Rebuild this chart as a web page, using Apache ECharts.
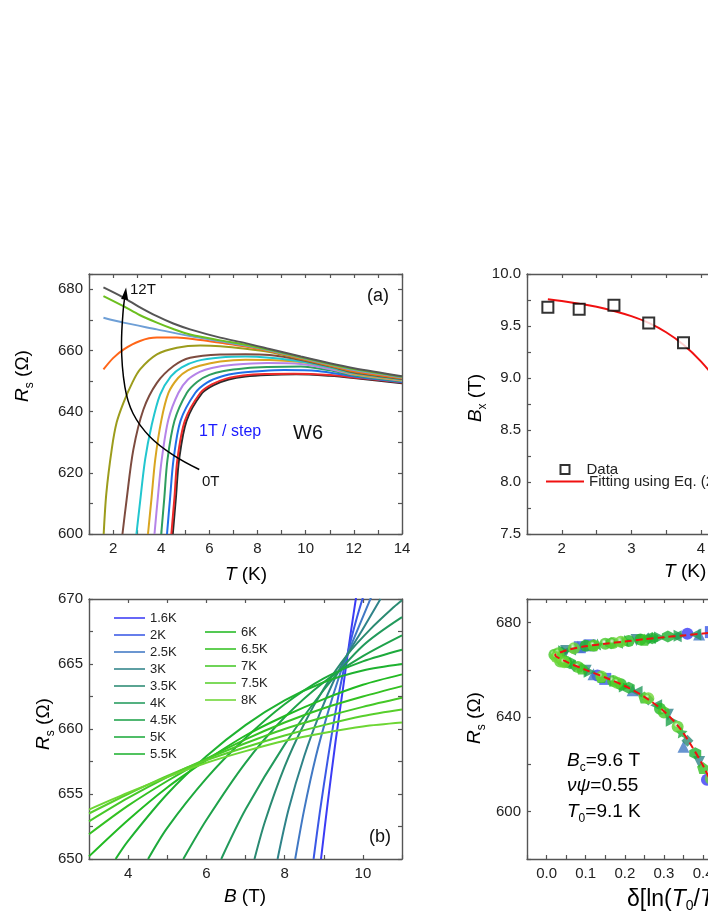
<!DOCTYPE html>
<html>
<head>
<meta charset="utf-8">
<script src="https://cdn.jsdelivr.net/npm/echarts@6/dist/echarts.min.js"></script>
<style>
html, body { margin: 0; padding: 0; overflow: hidden; background: #fff; }
#main { width: 880px; height: 917px; }
</style>
</head>
<body>
<div id="main"></div>
<script>
// ---- (a) Rs vs T at fixed field, 0T .. 12T
var fieldNames = ['0T','1T','2T','3T','4T','5T','6T','7T','8T','9T','10T','11T','12T'];
var fieldT = [
  [4.48, 4.61, 4.74, 5.05, 5.7, 6.18, 6.8, 7.5, 8.4, 9.6, 11, 12, 14],
  [4.42, 4.55, 4.67, 4.98, 5.62, 6.1, 6.7, 7.4, 8.3, 9.5, 11, 12, 14],
  [4.24, 4.37, 4.51, 4.8, 5.41, 5.9, 6.5, 7.2, 8.2, 9.1, 10.5, 12, 14],
  [4.0, 4.13, 4.26, 4.55, 5.06, 5.5, 6.0, 6.6, 7.5, 8.4, 9.8, 11, 12, 14],
  [3.72, 3.86, 4.02, 4.3, 4.71, 5.1, 5.6, 6.1, 7, 8.4, 9.8, 11, 12, 14],
  [3.45, 3.6, 3.75, 4.0, 4.3, 4.7, 5.1, 5.6, 6.45, 7.5, 8.5, 9.8, 11, 12, 14],
  [2.97, 3.1, 3.33, 3.6, 3.95, 4.4, 4.85, 5.5, 6.45, 7.5, 8.5, 9.8, 11, 12, 14],
  [2.39, 2.56, 2.84, 3.26, 3.82, 4.51, 5.2, 6.45, 7.5, 8.5, 9.8, 11, 12, 14],
  [1.61, 1.72, 1.95, 2.15, 2.43, 2.8, 3.12, 3.82, 4.65, 5.62, 6.45, 7.5, 8.5, 9.8, 11, 12, 14],
  [1.6, 2.0, 2.43, 3.12, 3.82, 4.65, 5.62, 6.45, 7.5, 8.5, 9.8, 11, 12, 14],
  [1.6, 2.43, 3.82, 5.2, 6.45, 7.5, 8.5, 9.8, 11, 12, 14],
  [1.6, 2.43, 3.1, 3.82, 4.5, 5.2, 6.45, 7.5, 8.5, 9.8, 11, 12, 14],
  [1.6, 2.43, 3.1, 3.82, 4.5, 5.2, 6.45, 7.5, 8.5, 9.8, 11, 12, 14]
];
var fieldR = [
  [600, 612, 624.3, 637, 646.1, 648.7, 650.5, 651.5, 652.0, 652.2, 651.7, 651.0, 649.3],
  [600, 612, 624.3, 637, 646.1, 648.9, 650.8, 651.8, 652.3, 652.4, 652.0, 651.2, 649.5],
  [600, 612, 624.3, 637, 646.1, 649.5, 651.5, 652.6, 653.3, 653.6, 653.3, 651.5, 649.7],
  [600, 612, 624.3, 637, 646.1, 649.8, 652.0, 653.3, 654.2, 654.6, 654.8, 653.5, 651.8, 649.9],
  [600, 612, 624.3, 637.5, 646.1, 650.4, 653.0, 654.3, 655.3, 655.9, 655.6, 653.9, 652.1, 650.1],
  [600, 612, 624.3, 637, 646.1, 651.0, 653.5, 655.0, 656.4, 657.0, 656.9, 656.2, 654.4, 652.3, 650.3],
  [600, 609, 624.3, 635.5, 645.5, 651.5, 654.5, 656.6, 657.7, 658.0, 657.6, 656.4, 654.5, 652.6, 650.5],
  [600, 611.1, 627.5, 640.7, 649.4, 654.9, 657.6, 658.7, 658.8, 658.5, 656.9, 654.8, 652.8, 650.7],
  [600, 613.3, 628, 636.5, 642.9, 649.5, 653.8, 658.7, 660.9, 661.6, 661.4, 660.6, 659.5, 657.2, 655.0, 653.1, 650.9],
  [653.8, 657.5, 660.3, 663.1, 664.2, 664.2, 663.4, 662.5, 661.3, 659.8, 657.4, 655.2, 653.3, 651.0],
  [670.7, 669.1, 666.9, 664.7, 663.0, 661.6, 660.0, 657.6, 655.4, 653.6, 651.2],
  [677.8, 674.5, 671.6, 669.1, 667.0, 665.2, 663.3, 661.9, 660.2, 657.8, 655.6, 653.9, 651.4],
  [680.6, 677.3, 674.2, 671.2, 668.8, 666.9, 664.2, 662.4, 660.5, 658.0, 655.8, 654.2, 651.6]
];
var fieldColors = ['#2b2b2b','#ee2a2a','#1f6fe8','#2e9e5e','#b583e8','#d9a520','#22c6cf',
                   '#7d4b3f','#9c9c1c','#ff6618','#6e9fd6','#6cbf1f','#555555'];
// curved arrow 0T -> 12T
var arrowT = [5.58, 4.5, 3.53, 2.83, 2.49, 2.35, 2.42, 2.51];
var arrowR = [621.1, 625.8, 631.8, 639.4, 648.1, 662.2, 673.1, 678.6];

// ---- (b) Rs vs B at fixed temperature
var tempNames = ['1.6K','2K','2.5K','3K','3.5K','4K','4.5K','5K','5.5K','6K','6.5K','7K','7.5K','8K'];
var bField = [
  [8.93, 9.1, 9.3, 9.5, 9.6, 9.7, 9.84],
  [8.74, 8.9, 9.1, 9.3, 9.5, 9.7, 9.85, 10.03],
  [8.27, 8.5, 8.8, 9.1, 9.4, 9.6, 9.9, 10.22],
  [7.82, 8.1, 8.5, 8.9, 9.3, 9.6, 10.0, 10.45],
  [7.23, 7.5, 8.0, 8.5, 9.0, 9.6, 10.2, 10.8, 11],
  [6.38, 7, 8, 9, 10, 11],
  [5.41, 6, 7, 8, 9, 10, 11],
  [4.51, 5, 6, 7, 8, 9, 10, 11],
  [3.68, 4, 5, 6, 7, 8, 9, 10, 11],
  [3, 4, 5, 6, 7, 8, 9, 10, 11],
  [3, 4, 5, 6, 7, 8, 9, 10, 11],
  [3, 4, 5, 6, 7, 8, 9, 10, 11],
  [3, 4, 5, 6, 7, 8, 9, 10, 11],
  [3, 4, 5, 6, 7, 8, 9, 10, 11]
];
var bRes = [
  [650, 654.3, 659.0, 663.3, 665.5, 667.6, 670.4],
  [650, 653.6, 657.6, 661.3, 664.4, 666.9, 668.6, 670.4],
  [650, 653.8, 657.9, 661.2, 664.1, 665.7, 667.9, 670.2],
  [650, 653.8, 657.9, 661.2, 664.0, 665.7, 667.7, 670],
  [650, 652.9, 657.1, 660.4, 663.1, 665.7, 667.7, 669.4, 669.9],
  [650, 653.8, 658.8, 663.0, 666.4, 668.6],
  [650, 653.0, 657.4, 660.9, 663.6, 665.6, 667.2],
  [650, 652.4, 656.2, 659.3, 661.9, 663.9, 665.2, 666.1],
  [650, 651.4, 655.0, 657.9, 660.3, 662.2, 663.6, 664.5, 665.0],
  [650.2, 653.0, 655.5, 657.6, 659.5, 661.0, 662.3, 663.4, 664.2],
  [651.9, 654.1, 656.0, 657.7, 659.2, 660.5, 661.6, 662.5, 663.3],
  [652.9, 654.7, 656.3, 657.7, 658.9, 660.0, 660.9, 661.7, 662.4],
  [653.5, 655.0, 656.4, 657.6, 658.6, 659.5, 660.3, 661.0, 661.5],
  [653.8, 655.1, 656.3, 657.4, 658.3, 659.1, 659.7, 660.2, 660.5]
];
var tempColors = ['#3b3bf5','#3a58e6','#4078c4','#2f8389','#2a8a72','#229a5c','#1ea24a',
                  '#1daa3c','#1eb230','#22ba22','#34c122','#45c827','#58cf2c','#6dd634'];

// ---- (c) Bx vs T
var bxT = [1.8, 2.25, 2.75, 3.25, 3.75];
var bxVal = [9.68, 9.66, 9.70, 9.53, 9.34];
var fitT = [1.8, 2.0, 2.25, 2.5, 2.75, 3.0, 3.25, 3.5, 3.75, 4.0, 4.25, 4.5];
var fitB = [9.757, 9.74, 9.715, 9.685, 9.645, 9.595, 9.53, 9.44, 9.32, 9.16, 8.96, 8.74];

// ---- (d) scaling collapse
var scalePts = [
  [[0.36,675.3],[0.45,676.3],[0.55,677.5],[0.13,657.6],[0.41,613.5],[0.47,600]],
  [[0.11,670.4],[0.42,676.0],[0.52,677.0],[0.15,656.2],[0.44,604],[0.085,669.6]],
  [[0.08,669.8],[0.39,675.0],[0.6,678.2],[0.12,658.2],[0.35,627.5],[0.22,651.4]],
  [[0.05,668.0],[0.23,672.7],[0.48,676.5],[0.1,659.6],[0.31,641],[0.39,621]],
  [[0.04,667.4],[0.26,673.3],[0.43,675.9],[0.07,661.8],[0.26,647.5],[0.36,630]],
  [[0.06,668.6],[0.18,671.5],[0.38,675.0],[0.03,665.0],[0.23,650.8],[0.28,645],[0.33,674.2]],
  [[0.045,667.9],[0.29,673.7],[0.34,674.5],[0.11,659.2],[0.32,638.5],[0.2,653.0]],
  [[0.13,670.7],[0.2,672.3],[0.17,655.3],[0.345,633.5],[0.27,673.5]],
  [[0.165,671.3],[0.27,673.4],[0.06,662.8],[0.21,652.4],[0.38,624.7],[0.31,674.1]],
  [[0.1,670.2],[0.21,672.2],[0.05,663.4],[0.19,653.9],[0.29,643.6],[0.24,672.9]],
  [[0.12,670.4],[0.25,672.8],[0.09,660.6],[0.25,648.3],[0.4,618.5],[0.14,657.0]],
  [[0.02,666.4],[0.15,671.1],[0.04,664.2],[0.17,655.3],[0.3,642.0],[0.08,661.2]],
  [[0.03,667.0],[0.17,671.4],[0.035,663.6],[0.18,654.6],[0.335,636],[0.12,670.3]],
  [[0.025,665.5],[0.07,669.2],[0.045,663.2],[0.14,657.2],[0.26,648.0],[0.42,614],[0.19,671.9]]
];
var scaleFitX = [0.75, 0.6, 0.5, 0.45, 0.4, 0.35, 0.3, 0.25, 0.2, 0.15, 0.1, 0.06, 0.04, 0.022,
                 0.05, 0.1, 0.15, 0.2, 0.25, 0.3, 0.34, 0.37, 0.4, 0.43, 0.46, 0.5];
var scaleFitY = [679.6, 678.0, 676.8, 676.1, 675.4, 674.6, 673.8, 673.0, 672.0, 671.1, 670.0, 668.7, 667.7, 666.3,
                 663.5, 660.0, 656.8, 653.2, 648.6, 642.5, 635.5, 628, 619.5, 609, 597, 580];

var STAR = 'path://M0,-10 L2.9,-4 L9.5,-3.1 L4.7,1.5 L5.9,8.1 L0,5 L-5.9,8.1 L-4.7,1.5 L-9.5,-3.1 L-2.9,-4 Z';
var PENT = 'path://M0,-10 L9.5,-3.1 L5.9,8.1 L-5.9,8.1 L-9.5,-3.1 Z';
var HEX = 'path://M0,-10 L8.7,-5 L8.7,5 L0,10 L-8.7,5 L-8.7,-5 Z';
var LINE_ICON = 'path://M0,0 L40,0 L40,2 L0,2 Z';
// hollow square (outer clockwise, inner counter-clockwise -> hole)
var SQUARE_ICON = 'path://M0,0 L11,0 L11,11 L0,11 Z M2,2 L2,9 L9,9 L9,2 Z';
var tempSymbols = ['circle','rect','triangle','triangle','diamond','triangle','triangle',
                   STAR, HEX, 'circle', PENT, 'circle', 'circle', 'circle'];
var tempRotate = [0, 0, 0, 180, 0, 90, -90, 0, 0, 0, 0, 0, 0, 0];

var FONT = 'Liberation Sans, Arial, sans-serif';
var AX = '#555';

function zip(xs, ys) {
  return xs.map(function (x, i) { return [x, ys[i]]; });
}
function every(step, digits) {
  return function (v) {
    var k = v / step;
    if (Math.abs(k - Math.round(k)) > 1e-6) return '';
    if (Math.abs(v) < 1e-9) v = 0;
    return v.toFixed(digits);
  };
}
function axisBase(g, pos, min, max, step) {
  return {
    gridIndex: g, type: 'value', position: pos, min: min, max: max, interval: step,
    axisLine: { show: true, onZero: false, lineStyle: { color: AX, width: 1.4 } },
    axisTick: { show: true, inside: true, length: 4, lineStyle: { color: AX, width: 1.2 } },
    axisLabel: { show: false },
    splitLine: { show: false }
  };
}
function axisPair(g, isX, min, max, step, fmt) {
  var main = axisBase(g, isX ? 'bottom' : 'left', min, max, step);
  main.axisLabel = { show: true, formatter: fmt, fontSize: 15, color: '#222', fontFamily: FONT, margin: isX ? 7 : 6 };
  var mirror = axisBase(g, isX ? 'top' : 'right', min, max, step);
  return [main, mirror];
}

var xAxes = [].concat(
  axisPair(0, true, 1, 14, 1, every(2, 0)),
  axisPair(1, true, 3, 11, 1, every(2, 0)),
  axisPair(2, true, 1.5, 6, 0.5, every(1, 0)),
  axisPair(3, true, -0.05, 0.75, 0.05, every(0.1, 1))
);
var yAxes = [].concat(
  axisPair(0, false, 600, 685, 10, every(20, 0)),
  axisPair(1, false, 650, 670, 2.5, every(5, 0)),
  axisPair(2, false, 7.5, 10, 0.25, every(0.5, 1)),
  axisPair(3, false, 580, 690, 20, every(40, 0))
);

var series = [];
// (a)
fieldNames.forEach(function (n, i) {
  series.push({
    type: 'line', name: n, xAxisIndex: 0, yAxisIndex: 0,
    data: zip(fieldT[i], fieldR[i]), symbol: 'none', smooth: 0.3, silent: true,
    lineStyle: { color: fieldColors[i], width: 2 }, z: 2
  });
});
var arrowData = zip(arrowT, arrowR);
arrowData[arrowData.length - 1] = {
  value: arrowData[arrowData.length - 1], symbol: 'triangle', symbolSize: [7, 12], symbolRotate: -7
};
series.push({
  type: 'line', name: 'arrow', xAxisIndex: 0, yAxisIndex: 0, data: arrowData,
  symbol: 'none', showSymbol: true, showAllSymbol: true, smooth: 0.4, silent: true,
  lineStyle: { color: '#000', width: 1.5 }, itemStyle: { color: '#000' }, z: 5
});
// (b)
tempNames.forEach(function (n, i) {
  series.push({
    type: 'line', name: n, xAxisIndex: 2, yAxisIndex: 2,
    data: zip(bField[i], bRes[i]), symbol: 'none', smooth: 0.3, silent: true,
    lineStyle: { color: tempColors[i], width: 2 }, itemStyle: { color: tempColors[i] }
  });
});
// (c)
series.push({
  type: 'scatter', name: 'Data', xAxisIndex: 4, yAxisIndex: 4, data: zip(bxT, bxVal),
  symbol: 'rect', symbolSize: 11, silent: true, z: 4,
  itemStyle: { color: '#fff', borderColor: '#000', borderWidth: 2 }
});
series.push({
  type: 'line', name: 'Fitting using Eq. (2)', xAxisIndex: 4, yAxisIndex: 4, data: zip(fitT, fitB),
  symbol: 'none', smooth: 0.4, silent: true,
  lineStyle: { color: '#f01010', width: 2 }, itemStyle: { color: '#f01010' }
});
// (d)
tempNames.forEach(function (n, i) {
  var col = tempColors[i];
  var fill = col;
  if (i >= 11) {
    fill = { type: 'radial', x: 0.4, y: 0.35, r: 0.6,
      colorStops: [{ offset: 0, color: '#ffffff' }, { offset: 0.35, color: col }, { offset: 1, color: col }] };
  }
  series.push({
    type: 'scatter', name: 'sc' + n, xAxisIndex: 6, yAxisIndex: 6, data: scalePts[i],
    symbol: tempSymbols[i], symbolRotate: tempRotate[i], symbolSize: 12, silent: true,
    itemStyle: { color: fill }
  });
});
series.push({
  type: 'line', name: 'scaleFit', xAxisIndex: 6, yAxisIndex: 6, data: zip(scaleFitX, scaleFitY),
  symbol: 'none', smooth: 0.3, silent: true, z: 6,
  lineStyle: { color: '#ee1111', width: 2, type: [7, 4] }
});

// text helpers
function richSet(size) {
  var sub = Math.round(size * 0.63);
  return {
    n: { fontSize: size, fontFamily: FONT, color: '#111', lineHeight: 26 },
    i: { fontSize: size, fontFamily: FONT, fontStyle: 'italic', color: '#111', lineHeight: 26 },
    s: { fontSize: sub, fontFamily: FONT, color: '#111', verticalAlign: 'bottom', lineHeight: sub },
    p: { fontSize: sub, fontFamily: FONT, color: '#111', verticalAlign: 'top', lineHeight: sub }
  };
}
function label(x, y, text, align, rot, size) {
  return {
    type: 'text', x: x, y: y, rotation: rot || 0, silent: true,
    style: { text: text, rich: richSet(size || 19), align: align, verticalAlign: 'middle' }
  };
}
function plain(x, y, text, size, color) {
  return {
    type: 'text', x: x, y: y, silent: true,
    style: { text: text, fontSize: size, fontFamily: FONT, fill: color || '#111', align: 'left', verticalAlign: 'middle' }
  };
}

var graphics = [
  label(23, 376, '{i|R}{s|s}{n| (Ω)}', 'center', Math.PI / 2),
  label(246, 575, '{i|T}{n| (K)}', 'center'),
  label(44, 724, '{i|R}{s|s}{n| (Ω)}', 'center', Math.PI / 2),
  label(245, 897, '{i|B}{n| (T)}', 'center'),
  label(476, 398, '{i|B}{s|x}{n| (T)}', 'center', Math.PI / 2),
  label(664, 572, '{i|T}{n| (K)}', 'left'),
  label(475, 718, '{i|R}{s|s}{n| (Ω)}', 'center', Math.PI / 2),
  label(627, 900, '{n|δ[ln(}{i|T}{s|0}{n|/}{i|T}{n|)]}{p|1/νψ}', 'left', 0, 23),
  label(567, 761, '{i|B}{s|c}{n|=9.6 T}', 'left'),
  label(567, 786, '{i|νψ}{n|=0.55}', 'left'),
  label(567, 812, '{i|T}{s|0}{n|=9.1 K}', 'left'),
  plain(130, 290, '12T', 15),
  plain(202, 482, '0T', 15),
  plain(199, 432, '1T / step', 16, '#1a1aff'),
  plain(293, 433, 'W6', 20),
  plain(367, 296, '(a)', 18),
  plain(369, 837, '(b)', 18)
];

var legendText = { fontSize: 13, color: '#222', fontFamily: FONT, lineHeight: 14 };
var option = {
  backgroundColor: '#ffffff',
  animation: false,
  grid: [
    { left: 89, top: 274, width: 313, height: 260, outerBoundsMode: 'none' },
    { left: 89, top: 599, width: 313, height: 260, outerBoundsMode: 'none' },
    { left: 527, top: 274, width: 313, height: 260, outerBoundsMode: 'none' },
    { left: 527, top: 599, width: 313, height: 260, outerBoundsMode: 'none' }
  ],
  xAxis: xAxes,
  yAxis: yAxes,
  legend: [
    { data: tempNames.slice(0, 9), orient: 'vertical', left: 114, top: 611, padding: 0, icon: LINE_ICON,
      itemWidth: 31, itemHeight: 2, itemGap: 3, selectedMode: false, textStyle: legendText },
    { data: tempNames.slice(9), orient: 'vertical', left: 205, top: 625, padding: 0, icon: LINE_ICON,
      itemWidth: 31, itemHeight: 2, itemGap: 3, selectedMode: false, textStyle: legendText },
    { data: ['Data'], orient: 'vertical', left: 559.5, top: 462, padding: 0, icon: SQUARE_ICON,
      itemWidth: 11, itemHeight: 11, selectedMode: false,
      itemStyle: { color: '#000', borderWidth: 0 },
      textStyle: { fontSize: 15, color: '#222', fontFamily: FONT, lineHeight: 14, padding: [0, 0, 0, 11] } },
    { data: ['Fitting using Eq. (2)'], orient: 'vertical', left: 546, top: 474, padding: 0, icon: LINE_ICON,
      itemWidth: 38, itemHeight: 2, selectedMode: false,
      textStyle: { fontSize: 15, color: '#222', fontFamily: FONT, lineHeight: 14 } }
  ],
  graphic: graphics,
  series: series
};

var chart = echarts.init(document.getElementById('main'), null, { renderer: 'canvas' });
chart.setOption(option);
</script>
</body>
</html>
